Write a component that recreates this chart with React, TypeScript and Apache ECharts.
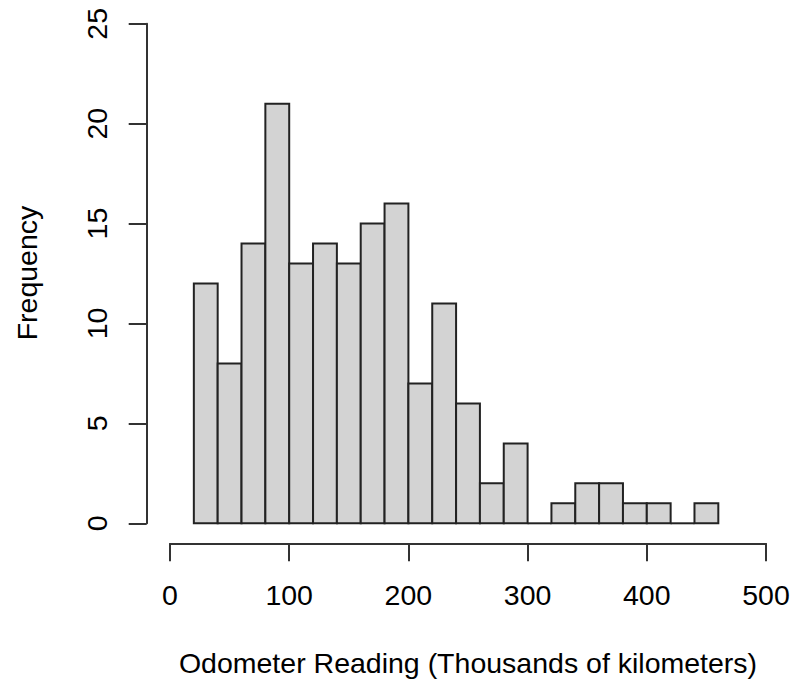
import React, { useEffect, useRef } from "react";
import * as echarts from "echarts";

const binStarts = [20, 40, 60, 80, 100, 120, 140, 160, 180, 200, 220, 240, 260, 280, 300, 320, 340, 360, 380, 400, 420, 440];
const binWidth = 20;
const counts = [12, 8, 14, 21, 13, 14, 13, 15, 16, 7, 11, 6, 2, 4, 0, 1, 2, 2, 1, 1, 0, 1];
const xTicks = [0, 100, 200, 300, 400, 500];
const yTicks = [0, 5, 10, 15, 20, 25];
const xTitle = "Odometer Reading (Thousands of kilometers)";
const yTitle = "Frequency";

const FONT = "'Liberation Sans', Arial, sans-serif";
const FS = 28.5;

export default function App() {
  const ref = useRef<HTMLDivElement>(null);
  useEffect(() => {
    document.body.style.margin = "0";
    if (!ref.current) return;
    const chart = echarts.init(ref.current, null, { renderer: "svg" });
    const data = binStarts.map((s, i) => [s, s + binWidth, counts[i]]);
    chart.setOption({
      animation: false,
      backgroundColor: "#ffffff",
      grid: { left: 170, top: 23.8, right: 24, bottom: 157.7, outerBoundsMode: "none", containLabel: false },
      xAxis: {
        type: "value",
        min: xTicks[0],
        max: xTicks[xTicks.length - 1],
        interval: 100,
        offset: 20,
        splitLine: { show: false },
        axisLine: { show: true, onZero: false, lineStyle: { color: "#333", width: 2 } },
        axisTick: { show: true, inside: false, length: 18, lineStyle: { color: "#333", width: 2 } },
        axisLabel: { show: true, margin: 37, fontSize: FS, fontFamily: FONT, color: "#000" },
      },
      yAxis: {
        type: "value",
        min: yTicks[0],
        max: yTicks[yTicks.length - 1],
        interval: 5,
        offset: 23.3,
        splitLine: { show: false },
        axisLine: { show: true, onZero: false, lineStyle: { color: "#333", width: 2 } },
        axisTick: { show: true, inside: false, length: 18, lineStyle: { color: "#333", width: 2 } },
        axisLabel: { show: true, rotate: 90, margin: 35, fontSize: FS, fontFamily: FONT, color: "#000" },
      },
      graphic: [
        {
          type: "text",
          x: 468,
          y: 663,
          style: {
            text: xTitle,
            fontSize: FS,
            fontFamily: FONT,
            fill: "#000",
            align: "center",
            verticalAlign: "middle",
          },
        },
        {
          type: "text",
          x: 27,
          y: 273,
          rotation: Math.PI / 2,
          style: {
            text: yTitle,
            fontSize: FS,
            fontFamily: FONT,
            fill: "#000",
            align: "center",
            verticalAlign: "middle",
          },
        },
      ],
      series: [
        {
          type: "custom",
          clip: false,
          encode: { x: [0, 1], y: 2 },
          data,
          renderItem: (params: any, api: any) => {
            const x0 = api.value(0);
            const x1 = api.value(1);
            const c = api.value(2);
            const p0 = api.coord([x0, c]);
            const p1 = api.coord([x1, 0]);
            if (c === 0) {
              return {
                type: "line",
                shape: { x1: p0[0], y1: p1[1], x2: p1[0], y2: p1[1] },
                style: { stroke: "#222", lineWidth: 2 },
              };
            }
            return {
              type: "rect",
              shape: { x: p0[0], y: p0[1], width: p1[0] - p0[0], height: p1[1] - p0[1] },
              style: { fill: "#d3d3d3", stroke: "#222", lineWidth: 2 },
            };
          },
        },
      ],
    });
    return () => chart.dispose();
  }, []);
  return <div ref={ref} style={{ width: 790, height: 681 }} />;
}
